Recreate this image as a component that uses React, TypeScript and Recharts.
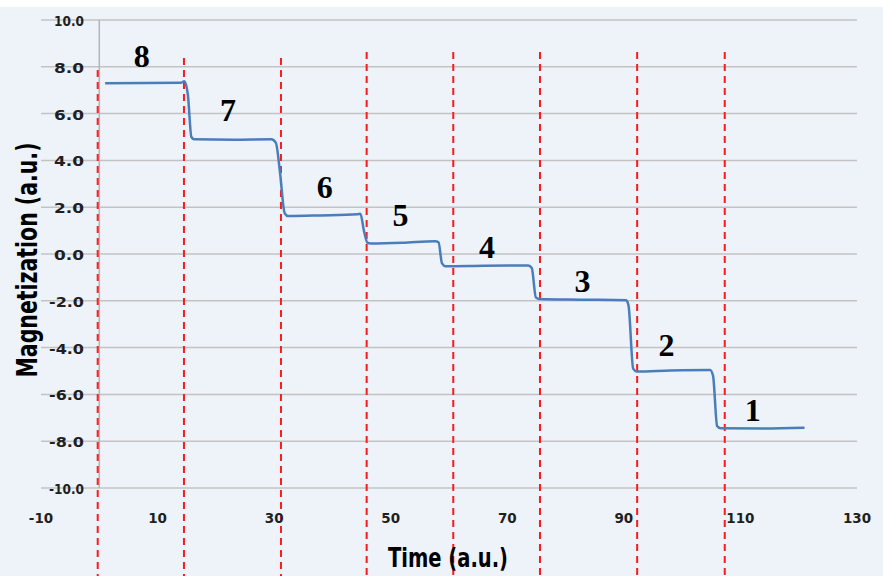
import {
  LineChart,
  Line,
  XAxis,
  YAxis,
  CartesianGrid,
  ReferenceLine,
  ReferenceDot,
} from "recharts";

// measured trace (time, magnetization)
const times = [
  1.0, 8, 14.0, 14.6, 15.2, 15.8, 16.3, 23, 29.5, 30.3, 31.0, 31.8, 32.4, 38,
  44.3, 44.8, 45.4, 46.0, 46.6, 52, 57.6, 58.2, 58.8, 59.4, 66, 73.6, 74.2,
  74.9, 75.5, 83, 90.4, 90.8, 91.6, 92.2, 98, 104.8, 105.3, 106.0, 106.6, 114,
  121.0,
];
const magnetization = [
  7.3, 7.31, 7.32, 7.38, 6.8, 5.0, 4.9, 4.88, 4.9, 4.75, 3.5, 1.75, 1.62, 1.65,
  1.7, 1.72, 1.0, 0.48, 0.45, 0.48, 0.55, 0.5, -0.4, -0.52, -0.5, -0.49, -0.6,
  -1.85, -1.92, -1.95, -1.98, -2.2, -4.9, -5.02, -4.98, -4.96, -5.2, -7.35,
  -7.45, -7.46, -7.43,
];

// red dashed separators
const markerTimes = [-0.27, 14.53, 31.17, 45.87, 60.73, 75.61, 92.28, 107.31];
const markerTops = [7.86, 8.38, 8.38, 8.63, 8.63, 8.63, 8.63, 8.63];

// step numbers
const stepLabels = ["8", "7", "6", "5", "4", "3", "2", "1"];
const stepLabelX = [7.3, 22.1, 38.7, 51.7, 66.5, 82.9, 97.3, 112.1];
const stepLabelY = [8.46, 6.15, 2.86, 1.67, 0.3, -1.15, -3.88, -6.67];

const xTicks = [-10, 10, 30, 50, 70, 90, 110, 130];
const yTicks = [-10, -8, -6, -4, -2, 0, 2, 4, 6, 8, 10];

const data = times.map((t, i) => ({ t, m: magnetization[i] }));

const TICK_FONT = "'DejaVu Sans', Verdana, sans-serif";

const YTick = ({ y, payload }: any) => (
  <text
    x={84}
    y={y}
    dy={6}
    textAnchor="end"
    fontFamily={TICK_FONT}
    fontWeight="bold"
    fontSize={13.5}
    fill="#1f1f1f"
    textLength={Number(payload.value) < 0 ? 35 : 30}
    lengthAdjust="spacingAndGlyphs"
  >
    {Number(payload.value).toFixed(1)}
  </text>
);

const XTick = ({ x, y, payload }: any) => (
  <text
    x={x}
    y={y + 27}
    textAnchor="middle"
    fontFamily={TICK_FONT}
    fontWeight="bold"
    fontSize={13.5}
    fill="#1f1f1f"
  >
    {payload.value}
  </text>
);

export default function App() {
  return (
    <div
      style={{
        position: "fixed",
        left: 0,
        top: 0,
        width: 883,
        height: 576,
        background: "#eef2f9",
        overflow: "hidden",
      }}
    >
      <div
        style={{
          position: "absolute",
          left: 0,
          top: 0,
          width: 883,
          height: 7,
          background: "#ffffff",
        }}
      />
      <LineChart
        width={883}
        height={576}
        data={data}
        margin={{ top: 20, right: 26, bottom: 58, left: 1 }}
        style={{ position: "absolute", left: 0, top: 0 }}
      >
        <CartesianGrid vertical={false} stroke="#c3c3c3" strokeWidth={1.5} />
        <XAxis
          dataKey="t"
          type="number"
          domain={[-10, 130]}
          ticks={xTicks}
          height={30}
          axisLine={false}
          tickLine={false}
          tick={<XTick />}
          interval={0}
        />
        <YAxis
          type="number"
          domain={[-10, 10]}
          ticks={yTicks}
          width={40}
          axisLine={false}
          tickLine={false}
          tick={<YTick />}
          interval={0}
        />
        <ReferenceLine x={0} stroke="#b4b4b4" strokeWidth={1.5} />
        {markerTimes.map((mt, i) => (
          <ReferenceLine
            key={`sep-${i}`}
            segment={[
              { x: mt, y: markerTops[i] },
              { x: mt, y: -14 },
            ]}
            stroke="#ff1a1a"
            strokeWidth={2}
            strokeDasharray="7 5"
            ifOverflow="visible"
          />
        ))}
        <Line
          dataKey="m"
          type="monotone"
          stroke="#4a7ebb"
          strokeWidth={2.5}
          dot={false}
          isAnimationActive={false}
        />
        {stepLabels.map((s, i) => (
          <ReferenceDot
            key={`lbl-${s}`}
            x={stepLabelX[i]}
            y={stepLabelY[i]}
            r={0}
            fill="none"
            stroke="none"
            ifOverflow="visible"
            label={{
              value: s,
              position: "center",
              fill: "#000",
              fontSize: 32,
              fontWeight: "bold",
              fontFamily: "'Liberation Serif', 'Times New Roman', serif",
            }}
          />
        ))}
      </LineChart>
      <svg
        width={883}
        height={576}
        style={{ position: "absolute", left: 0, top: 0, pointerEvents: "none" }}
      >
        <text
          x={448}
          y={567}
          textAnchor="middle"
          fontFamily={TICK_FONT}
          fontWeight="bold"
          fontSize={26}
          fill="#000"
          textLength={120}
          lengthAdjust="spacingAndGlyphs"
        >
          Time (a.u.)
        </text>
        <text
          x={37}
          y={260}
          transform="rotate(-90, 37, 260)"
          textAnchor="middle"
          fontFamily={TICK_FONT}
          fontWeight="bold"
          fontSize={28}
          fill="#000"
          textLength={235}
          lengthAdjust="spacingAndGlyphs"
        >
          Magnetization (a.u.)
        </text>
      </svg>
    </div>
  );
}
